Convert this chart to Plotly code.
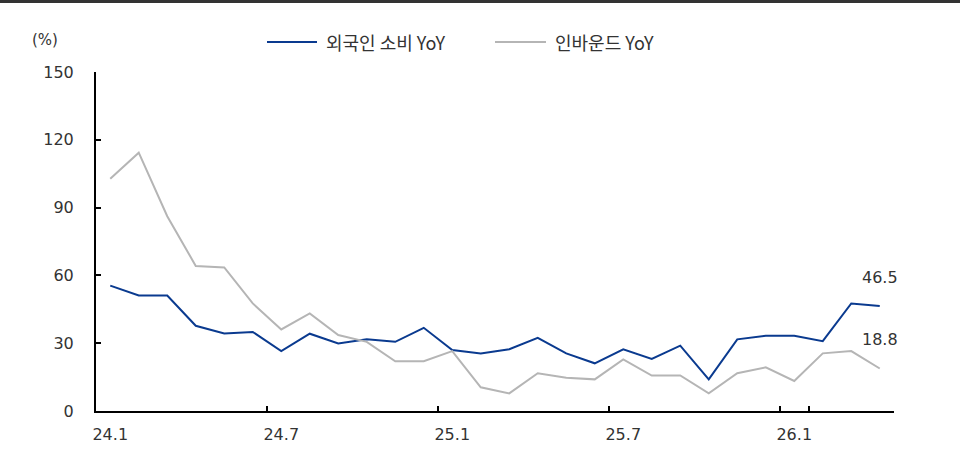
import plotly.graph_objects as go

months = ["24.1","24.2","24.3","24.4","24.5","24.6","24.7","24.8","24.9","24.10","24.11","24.12",
          "25.1","25.2","25.3","25.4","25.5","25.6","25.7","25.8","25.9","25.10","25.11","25.12",
          "26.1","26.2","26.3","26.4"]
foreign_yoy = [55.5, 51.1, 51.1, 37.7, 34.3, 35.0, 26.5, 34.2, 29.9, 31.7, 30.6, 36.8,
               27.0, 25.5, 27.3, 32.4, 25.5, 21.1, 27.3, 23.0, 28.9, 14.0, 31.7, 33.3,
               33.3, 30.9, 47.6, 46.5]
inbound_yoy = [102.8, 114.3, 86.2, 64.2, 63.5, 47.6, 36.1, 43.2, 33.6, 30.6, 22.0, 22.0,
               26.5, 10.5, 7.8, 16.7, 14.7, 14.0, 22.8, 15.7, 15.7, 7.8, 16.7, 19.3,
               13.3, 25.5, 26.5, 18.8]
series_names = ["외국인 소비 YoY", "인바운드 YoY"]
series_colors = ["#0A3A8F", "#B5B5B5"]
y_ticks = [0, 30, 60, 90, 120, 150]

FONT = "DejaVu Sans, Liberation Sans, sans-serif"
KFONT = "Noto Sans CJK KR, DejaVu Sans, sans-serif"
TXT = "#333333"

L, R, T, B = 96, 66, 72, 42
PW, PH = 960 - L - R, 453 - T - B
def px(x):  # page x -> paper x
    return (x - L) / PW
def py(y):  # page y -> paper y
    return (453 - B - y) / PH

fig = go.Figure()
for vals, name, col in zip([foreign_yoy, inbound_yoy], series_names, series_colors):
    fig.add_trace(go.Scatter(x=months, y=vals, mode="lines", name=name,
                             line=dict(color=col, width=2), showlegend=False))

last = len(months) - 1  # category index of the last month
fig.add_annotation(x=last, y=foreign_yoy[-1], text=f"{foreign_yoy[-1]:.1f}", showarrow=False,
                   xanchor="center", yanchor="middle", yshift=28,
                   font=dict(family=FONT, size=16, color=TXT))
fig.add_annotation(x=last, y=inbound_yoy[-1], text=f"{inbound_yoy[-1]:.1f}", showarrow=False,
                   xanchor="center", yanchor="middle", yshift=29,
                   font=dict(family=FONT, size=16, color=TXT))
fig.add_annotation(xref="paper", yref="paper", x=px(45), y=py(40), text="(%)",
                   showarrow=False, xanchor="center", yanchor="middle",
                   font=dict(family=FONT, size=15, color=TXT))

# legend (drawn as shapes + text)
legend_pos = [(267, 317, 324), (495, 546, 553)]
for (x0, x1, xt), name, col in zip(legend_pos, series_names, series_colors):
    fig.add_shape(type="line", xref="paper", yref="paper", x0=px(x0), x1=px(x1),
                  y0=py(42), y1=py(42), line=dict(color=col, width=2))
    fig.add_annotation(xref="paper", yref="paper", x=px(xt), y=py(42), text=name,
                       showarrow=False, xanchor="left", yanchor="middle",
                       font=dict(family=KFONT, size=18, color=TXT))

# top rule
fig.add_shape(type="line", xref="paper", yref="paper", x0=px(0), x1=px(960),
              y0=py(1.5), y1=py(1.5), line=dict(color="#333333", width=3))

fig.update_layout(
    width=960, height=453,
    margin=dict(l=L, r=R, t=T, b=B, autoexpand=False),
    paper_bgcolor="white", plot_bgcolor="white",
    showlegend=False,
    xaxis=dict(type="category", range=[-0.5, len(months)-0.5], tickmode="array",
               tickvals=months[::6], ticktext=months[::6], tickson="boundaries", tickangle=0,
               ticks="inside", ticklen=5, tickwidth=1.5, tickcolor="#000000", automargin=False,
               showline=True, linecolor="#000000", linewidth=2, showgrid=False, zeroline=False,
               ticklabelstandoff=8,
               tickfont=dict(family=FONT, size=16, color=TXT)),
    yaxis=dict(range=[0, 150], tickvals=y_ticks, ticks="inside", ticklen=5, tickwidth=1.5,
               tickcolor="#000000", showline=True, linecolor="#000000", linewidth=2, automargin=False,
               showgrid=False, zeroline=False, ticklabelstandoff=17,
               tickfont=dict(family=FONT, size=16, color=TXT)),
)

fig.write_html("out.html", config={"displayModeBar": False},
               post_script="document.body.style.margin='0px';")
